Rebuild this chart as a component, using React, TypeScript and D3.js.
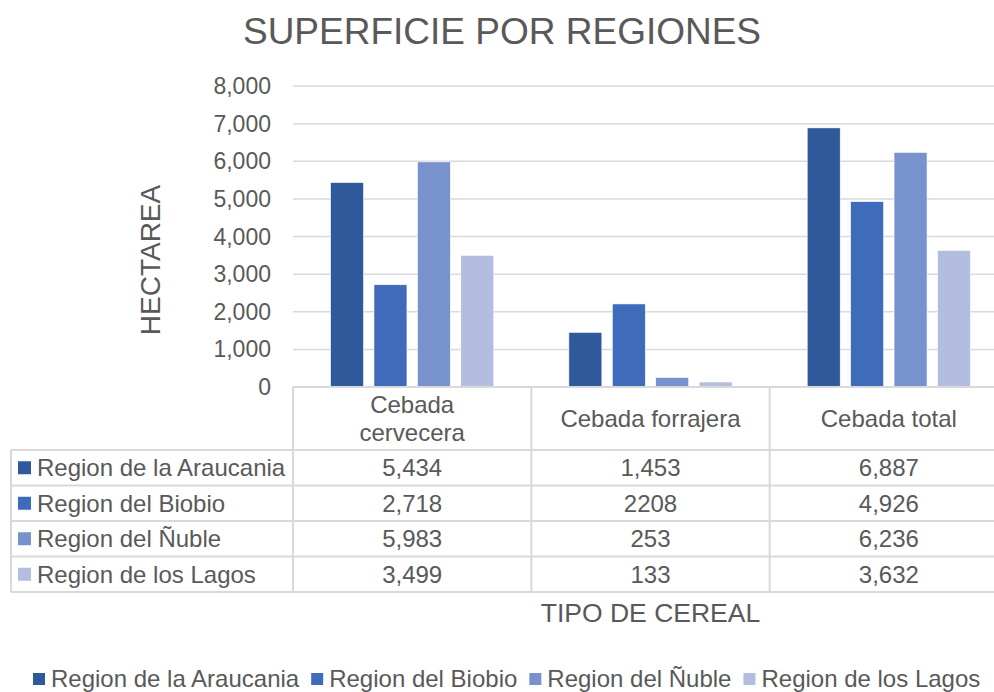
import { useRef, useEffect } from "react";
import * as d3 from "d3";

// chart data
const categories = ["Cebada cervecera", "Cebada forrajera", "Cebada total"];
const categoryLines = [["Cebada", "cervecera"], ["Cebada forrajera"], ["Cebada total"]];
const series = ["Region de la Araucania", "Region del Biobio", "Region del Ñuble", "Region de los Lagos"];
const araucania = [5434, 1453, 6887];
const biobio = [2718, 2208, 4926];
const nuble = [5983, 253, 6236];
const lagos = [3499, 133, 3632];
// table text as it appears in the source (one cell has no thousands separator)
const tableText = [
  ["5,434", "1,453", "6,887"],
  ["2,718", "2208", "4,926"],
  ["5,983", "253", "6,236"],
  ["3,499", "133", "3,632"],
];
const yTicks = [0, 1000, 2000, 3000, 4000, 5000, 6000, 7000, 8000];
const colors = ["#30599b", "#3f6bbb", "#7892cd", "#b2bde0"];

export default function App() {
  const svgRef = useRef<SVGSVGElement>(null);

  useEffect(() => {
    document.body.style.margin = "0";
    const width = 994;
    const height = 692;
    const svg = d3.select(svgRef.current);
    svg.selectAll("*").remove();
    svg.attr("width", width).attr("height", height);

    const font = "'Liberation Sans', Arial, sans-serif";
    const textColor = "#595959";
    const gridColor = "#d9d9d9";

    svg.append("rect").attr("width", width).attr("height", height).attr("fill", "#fff");

    const plotLeft = 293;
    const plotRight = 1008;
    const plotTop = 86;
    const plotBottom = 387;

    const values = [araucania, biobio, nuble, lagos];

    const x0 = d3.scaleBand<string>().domain(categories).range([plotLeft, plotRight]).padding(0);
    const groupW = x0.bandwidth() * 0.685;
    const x1 = d3.scaleBand<string>().domain(series).range([0, groupW]).paddingInner(0.24).paddingOuter(0);
    const y = d3.scaleLinear().domain([0, 8000]).range([plotBottom, plotTop]);

    // title
    svg.append("text")
      .attr("x", 502).attr("y", 44)
      .attr("text-anchor", "middle")
      .attr("font-family", font).attr("font-size", 37)
      .attr("fill", textColor)
      .text("SUPERFICIE POR REGIONES");

    // gridlines
    svg.append("g").selectAll("line")
      .data(yTicks.filter(d => d > 0))
      .join("line")
      .attr("x1", plotLeft).attr("x2", plotRight)
      .attr("y1", d => y(d)).attr("y2", d => y(d))
      .attr("stroke", gridColor).attr("stroke-width", 1.5);

    // y tick labels
    const fmt = d3.format(",");
    svg.append("g").selectAll("text")
      .data(yTicks)
      .join("text")
      .attr("x", 271).attr("y", d => y(d) + 8)
      .attr("text-anchor", "end")
      .attr("font-family", font).attr("font-size", 23)
      .attr("fill", textColor)
      .text(d => fmt(d));

    // y axis title
    svg.append("text")
      .attr("transform", `translate(160,260) rotate(-90)`)
      .attr("text-anchor", "middle")
      .attr("font-family", font).attr("font-size", 28)
      .attr("fill", textColor)
      .text("HECTAREA");

    // bars
    const groups = svg.append("g").selectAll("g")
      .data(categories)
      .join("g")
      .attr("transform", c => `translate(${x0(c)! + (x0.bandwidth() - groupW) / 2},0)`);

    groups.selectAll("rect")
      .data((c, ci) => series.map((s, si) => ({ s, si, v: values[si][ci] })))
      .join("rect")
      .attr("x", d => x1(d.s)!)
      .attr("y", d => y(d.v))
      .attr("width", x1.bandwidth())
      .attr("height", d => plotBottom - y(d.v))
      .attr("fill", d => colors[d.si])
      .attr("stroke", "#fff").attr("stroke-width", 0.6);

    // data table
    const tableLeft = 11;
    const headerBottom = 450;
    const tableBottom = 592;
    const rows = d3.scaleBand<string>().domain(series).range([headerBottom, tableBottom]);
    const table = svg.append("g");

    // horizontal lines
    table.append("line")
      .attr("x1", plotLeft).attr("x2", plotRight)
      .attr("y1", plotBottom).attr("y2", plotBottom)
      .attr("stroke", gridColor).attr("stroke-width", 2);
    table.selectAll("line.h")
      .data([headerBottom, ...series.map(s => rows(s)! + rows.bandwidth())])
      .join("line")
      .attr("class", "h")
      .attr("x1", tableLeft).attr("x2", plotRight)
      .attr("y1", d => d).attr("y2", d => d)
      .attr("stroke", gridColor).attr("stroke-width", 2);
    // vertical lines
    table.append("line")
      .attr("x1", tableLeft).attr("x2", tableLeft)
      .attr("y1", headerBottom).attr("y2", tableBottom)
      .attr("stroke", gridColor).attr("stroke-width", 2);
    table.selectAll("line.v")
      .data([...categories.map(c => x0(c)!), plotRight])
      .join("line")
      .attr("class", "v")
      .attr("x1", d => d).attr("x2", d => d)
      .attr("y1", plotBottom).attr("y2", tableBottom)
      .attr("stroke", gridColor).attr("stroke-width", 2);

    // header labels
    const header = table.selectAll("text.head")
      .data(categories)
      .join("text")
      .attr("class", "head")
      .attr("x", c => x0(c)! + x0.bandwidth() / 2)
      .attr("y", (c, i) => (plotBottom + headerBottom) / 2 + 8 - (categoryLines[i].length - 1) * 14)
      .attr("text-anchor", "middle")
      .attr("font-family", font).attr("font-size", 24)
      .attr("fill", textColor);
    header.selectAll("tspan")
      .data((c, i) => categoryLines[i])
      .join("tspan")
      .attr("x", function () { return (this.parentNode as SVGTextElement).getAttribute("x"); })
      .attr("dy", (d, i) => (i === 0 ? 0 : 28))
      .text(d => d);

    // row headers
    const rowHead = table.selectAll("g.rowhead")
      .data(series)
      .join("g")
      .attr("class", "rowhead")
      .attr("transform", s => `translate(0,${rows(s)! + rows.bandwidth() / 2})`);
    rowHead.append("rect")
      .attr("x", 18).attr("y", -6.5).attr("width", 13).attr("height", 13)
      .attr("fill", (s, i) => colors[i]);
    rowHead.append("text")
      .attr("x", 37).attr("y", 8.5)
      .attr("font-family", font).attr("font-size", 24)
      .attr("fill", textColor)
      .text(s => s);

    // cell values
    series.forEach((s, si) => {
      table.append("g").selectAll("text")
        .data(categories)
        .join("text")
        .attr("x", c => x0(c)! + x0.bandwidth() / 2)
        .attr("y", rows(s)! + rows.bandwidth() / 2 + 8.5)
        .attr("text-anchor", "middle")
        .attr("font-family", font).attr("font-size", 24)
        .attr("fill", textColor)
        .text((c, ci) => tableText[si][ci]);
    });

    // x axis title
    svg.append("text")
      .attr("x", (plotLeft + plotRight) / 2).attr("y", 622)
      .attr("text-anchor", "middle")
      .attr("font-family", font).attr("font-size", 26.5)
      .attr("fill", textColor)
      .text("TIPO DE CEREAL");

    // legend
    const legend = svg.append("g").attr("transform", "translate(33,687)");
    let lx = 0;
    series.forEach((s, i) => {
      const item = legend.append("g").attr("transform", `translate(${lx},0)`);
      item.append("rect").attr("x", 0).attr("y", -14).attr("width", 12).attr("height", 12).attr("fill", colors[i]);
      const t = item.append("text")
        .attr("x", 18).attr("y", 0)
        .attr("font-family", font).attr("font-size", 24)
        .attr("fill", textColor)
        .text(s);
      const w = (t.node() as SVGTextElement).getComputedTextLength();
      lx += 18 + w + 12;
    });
  }, []);

  return <svg ref={svgRef} style={{ display: "block" }} />;
}
